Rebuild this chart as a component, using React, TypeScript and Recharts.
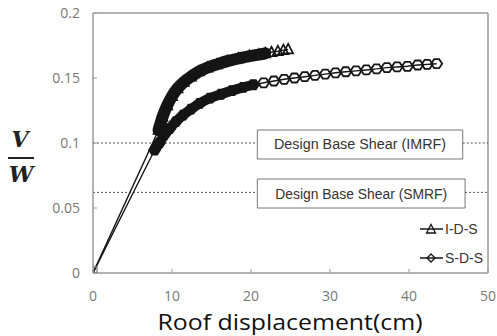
import React from 'react';
import {
  ComposedChart,
  Line,
  XAxis,
  YAxis,
  ReferenceLine,
  ReferenceArea,
  Legend,
  Label,
} from 'recharts';

// ---------- data ----------
const xTicks = [0, 10, 20, 30, 40, 50];
const yTicks = [0, 0.05, 0.1, 0.15, 0.2];

const designShearIMRF = 0.1;
const designShearSMRF = 0.062;

// I-D-S pushover curve (roof displacement cm, V/W)
const idsData = [
  { x: 0, y: 0 },
  { x: 8.3, y: 0.11 },
  { x: 8.8, y: 0.12 },
  { x: 9.4, y: 0.129 },
  { x: 10.0, y: 0.136 },
  { x: 10.7, y: 0.142 },
  { x: 11.5, y: 0.147 },
  { x: 12.4, y: 0.151 },
  { x: 13.4, y: 0.155 },
  { x: 14.5, y: 0.158 },
  { x: 15.7, y: 0.1605 },
  { x: 17.0, y: 0.163 },
  { x: 18.4, y: 0.165 },
  { x: 19.8, y: 0.1668 },
  { x: 21.0, y: 0.168 },
  { x: 21.8, y: 0.169 },
  { x: 22.6, y: 0.1698 },
  { x: 23.4, y: 0.1706 },
  { x: 24.1, y: 0.1714 },
  { x: 24.7, y: 0.172 },
];

// S-D-S pushover curve
const sdsData = [
  { x: 0, y: 0 },
  { x: 7.8, y: 0.0946 },
  { x: 8.4, y: 0.1 },
  { x: 9.0, y: 0.106 },
  { x: 9.7, y: 0.111 },
  { x: 10.5, y: 0.1165 },
  { x: 11.4, y: 0.1215 },
  { x: 12.4, y: 0.126 },
  { x: 13.5, y: 0.1305 },
  { x: 14.8, y: 0.1345 },
  { x: 16.2, y: 0.1375 },
  { x: 17.6, y: 0.1403 },
  { x: 19.0, y: 0.1428 },
  { x: 20.3, y: 0.1448 },
  { x: 21.6, y: 0.1463 },
  { x: 22.9, y: 0.1477 },
  { x: 24.2, y: 0.149 },
  { x: 25.5, y: 0.15 },
  { x: 26.8, y: 0.151 },
  { x: 28.1, y: 0.152 },
  { x: 29.4, y: 0.153 },
  { x: 30.7, y: 0.154 },
  { x: 32.0, y: 0.1548 },
  { x: 33.3, y: 0.1555 },
  { x: 34.6, y: 0.1562 },
  { x: 35.9, y: 0.157 },
  { x: 37.2, y: 0.158 },
  { x: 38.5, y: 0.1585 },
  { x: 39.8, y: 0.159 },
  { x: 41.1, y: 0.16 },
  { x: 42.3, y: 0.1605 },
  { x: 43.5, y: 0.161 },
];

const seriesNames = ['I-D-S', 'S-D-S'];
const boxIMRF = { label: 'Design Base Shear (IMRF)', x1: 20.8, x2: 46.8, y1: 0.0877, y2: 0.11 };
const boxSMRF = { label: 'Design Base Shear (SMRF)', x1: 20.8, x2: 47.1, y1: 0.05, y2: 0.0723 };

// dense (overlapping-marker) portions of each curve
const idsBand = idsData.filter((p) => p.x >= 8.3 && p.x <= 21.8);
const sdsBand = sdsData.filter((p) => p.x >= 7.8 && p.x <= 20.3);

// ---------- styles ----------
const INK = '#151515';
const AXIS = '#9a9a9a';
const narrowFont = "'Liberation Sans Narrow', 'Arial Narrow', 'Liberation Sans', sans-serif";

const TriDot = (props: any) => {
  const { cx, cy, index } = props;
  if (cx == null || cy == null) return <g key={`t${index}`} />;
  if (index === 0) {
    return <rect key={`t${index}`} x={cx - 3} y={cy - 6} width={7} height={6} fill="none" stroke="#777" strokeWidth={1.2} />;
  }
  return (
    <polygon
      key={`t${index}`}
      points={`${cx},${cy - 5.5} ${cx - 5},${cy + 4} ${cx + 5},${cy + 4}`}
      fill="none"
      stroke={INK}
      strokeWidth={1.7}
    />
  );
};

const DiaDot = (props: any) => {
  const { cx, cy, index } = props;
  if (cx == null || cy == null || index === 0) return <g key={`d${index}`} />;
  return (
    <polygon
      key={`d${index}`}
      points={`${cx - 2.5},${cy - 4.5} ${cx + 2.5},${cy - 4.5} ${cx + 5.5},${cy} ${cx + 2.5},${cy + 4.5} ${cx - 2.5},${cy + 4.5} ${cx - 5.5},${cy}`}
      fill="none"
      stroke={INK}
      strokeWidth={1.8}
    />
  );
};

const boxLabel = (text: string) => (props: any) => {
  const vb = props.viewBox || {};
  const { x = 0, y = 0, width = 0, height = 0 } = vb;
  return (
    <text
      x={x + width / 2}
      y={y + height / 2 + 5}
      textAnchor="middle"
      fontSize={14}
      fontFamily={narrowFont}
      fill="#333"
      textLength={172}
      lengthAdjust="spacingAndGlyphs"
    >
      {text}
    </text>
  );
};

const YLabel = () => (
  <g>
    <text x={20} y={147} textAnchor="middle" fontSize={22} fontWeight="bold" fontStyle="italic" fontFamily="'DejaVu Serif', serif" fill="#222">
      V
    </text>
    <line x1={8} x2={34} y1={158} y2={158} stroke="#222" strokeWidth={2} />
    <text x={21} y={182} textAnchor="middle" fontSize={22} fontWeight="bold" fontStyle="italic" fontFamily="'DejaVu Serif', serif" fill="#222">
      W
    </text>
  </g>
);

const XLabel = () => (
  <text x={290} y={330} textAnchor="middle" fontSize={21} fontFamily="'Open Sans', sans-serif" fill="#111" textLength={265} lengthAdjust="spacingAndGlyphs">
    Roof displacement(cm)
  </text>
);

const LegendContent = () => (
  <div style={{ fontFamily: narrowFont, fontSize: 14, color: '#333' }}>
    {seriesNames.map((name, i) => (
      <div key={name} style={{ display: 'flex', alignItems: 'center', height: 29 }}>
        <svg width={26} height={14} style={{ display: 'block' }}>
          <line x1={2} x2={25} y1={7} y2={7} stroke={INK} strokeWidth={1.5} />
          {i === 0 ? (
            <polygon points="13,2.5 8.5,11 17.5,11" fill="none" stroke={INK} strokeWidth={1.3} />
          ) : (
            <polygon points="13,3 17,7 13,11 9,7" fill="none" stroke={INK} strokeWidth={1.3} />
          )}
        </svg>
        <span style={{ marginLeft: 1 }}>{name}</span>
      </div>
    ))}
  </div>
);

export default function App() {
  return (
    <div style={{ position: 'absolute', left: 0, top: 0, width: 497, height: 336, background: '#fff' }}>
      <ComposedChart width={497} height={336} margin={{ top: 13, right: 9, left: 0, bottom: 0 }}>
        <XAxis
          type="number"
          dataKey="x"
          domain={[0, 50]}
          ticks={xTicks}
          height={63}
          tickSize={-4}
          tickMargin={22}
          axisLine={{ stroke: AXIS, strokeWidth: 1.5 }}
          tickLine={{ stroke: AXIS }}
          tick={{ fill: '#777', fontSize: 14, fontFamily: "'Open Sans', sans-serif" }}
          allowDataOverflow
        >
          <Label content={<XLabel />} />
        </XAxis>
        <YAxis
          type="number"
          domain={[0, 0.2]}
          ticks={yTicks}
          width={93}
          tickSize={-4}
          tickMargin={17}
          axisLine={{ stroke: AXIS, strokeWidth: 1.5 }}
          tickLine={{ stroke: AXIS }}
          tick={{ fill: '#777', fontSize: 14, fontFamily: "'Open Sans', sans-serif" }}
          allowDataOverflow
        >
          <Label content={<YLabel />} />
        </YAxis>

        <ReferenceLine y={0.2} stroke={AXIS} strokeWidth={1.5} />
        <ReferenceLine x={50} stroke={AXIS} strokeWidth={1.5} />

        <ReferenceLine
          segment={[{ x: 0, y: designShearIMRF }, { x: boxIMRF.x1, y: designShearIMRF }]}
          stroke="#555"
          strokeDasharray="2 2"
        />
        <ReferenceLine
          segment={[{ x: boxIMRF.x2, y: designShearIMRF }, { x: 50, y: designShearIMRF }]}
          stroke="#555"
          strokeDasharray="2 2"
        />
        <ReferenceLine
          segment={[{ x: 0, y: designShearSMRF }, { x: boxSMRF.x1, y: designShearSMRF }]}
          stroke="#555"
          strokeDasharray="2 2"
        />
        <ReferenceLine
          segment={[{ x: boxSMRF.x2, y: designShearSMRF }, { x: 50, y: designShearSMRF }]}
          stroke="#555"
          strokeDasharray="2 2"
        />

        <ReferenceArea x1={boxIMRF.x1} x2={boxIMRF.x2} y1={boxIMRF.y1} y2={boxIMRF.y2} fill="#fff" fillOpacity={1} stroke="#777" strokeWidth={1}>
          <Label content={boxLabel(boxIMRF.label)} />
        </ReferenceArea>
        <ReferenceArea x1={boxSMRF.x1} x2={boxSMRF.x2} y1={boxSMRF.y1} y2={boxSMRF.y2} fill="#fff" fillOpacity={1} stroke="#777" strokeWidth={1}>
          <Label content={boxLabel(boxSMRF.label)} />
        </ReferenceArea>

        {/* dense marker bands */}
        <Line data={sdsBand} dataKey="y" type="monotone" stroke={INK} strokeWidth={10} strokeLinecap="round" strokeLinejoin="round" dot={false} isAnimationActive={false} legendType="none" />
        <Line data={idsBand} dataKey="y" type="monotone" stroke={INK} strokeWidth={12} strokeLinecap="round" strokeLinejoin="round" dot={false} isAnimationActive={false} legendType="none" />

        {/* curves with markers */}
        <Line name="S-D-S" data={sdsData} dataKey="y" type="linear" stroke={INK} strokeWidth={1.4} dot={DiaDot} isAnimationActive={false} />
        <Line name="I-D-S" data={idsData} dataKey="y" type="linear" stroke={INK} strokeWidth={1.4} dot={TriDot} isAnimationActive={false} />

        <Legend
          layout="vertical"
          align="center"
          verticalAlign="middle"
          content={<LegendContent />}
          wrapperStyle={{ position: 'absolute', left: 418, top: 214, width: 75, height: 58 }}
        />
      </ComposedChart>
    </div>
  );
}
